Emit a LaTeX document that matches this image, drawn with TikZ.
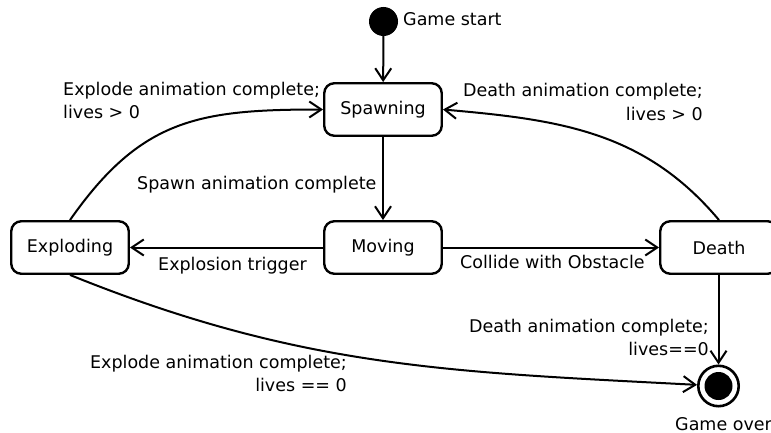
\documentclass[tikz,border=0pt]{standalone}
\usepackage{fontspec}
\setmainfont{DejaVu Sans}
\usetikzlibrary{arrows.meta}
\begin{document}
\begin{tikzpicture}[x=1pt,y=1pt,
  every node/.style={font=\fontsize{17.5}{23.5}\selectfont},
  state/.style={draw, line width=2.4pt, rounded corners=10pt, minimum width=117.5pt, minimum height=52.5pt, inner sep=0pt},
  edge/.style={line width=2pt, -{Straight Barb[length=12pt,width=16pt]}},
  lbl/.style={inner sep=0pt}]
\useasboundingbox (0,0) rectangle (771,432);
% states
\node[circle, fill, inner sep=0pt, minimum size=29pt] (init) at (383.5,410.5) {};
\node[lbl, anchor=base west] (tstart) at (403,406) {Game start};
\node[state] (spawn) at (383,322.5) {Spawning};
\node[state] (moving) at (383,184.5) {Moving};
\node[state] (expl) at (70,184.5) {Exploding};
\node[state] (death) at (719,184.5) {Death};
\node[circle, draw, line width=2.6pt, minimum size=40.4pt, inner sep=0pt,
  path picture={\fill (path picture bounding box.center) circle (14pt);}] (final) at (718.5,46) {};
\node[lbl, anchor=base west] (tover) at (675,2) {Game over};
% transitions
\draw[edge] (init) -- (spawn);
\draw[edge] (spawn) -- (moving);
\draw[edge] (moving) -- (expl);
\draw[edge] (moving) -- (death);
\draw[edge] (expl.north) to[out=55,in=180,looseness=1.15] (spawn.west);
\draw[edge] (death.north) to[out=130,in=-5] (spawn.east);
\draw[edge] (expl.south) to[out=-22,in=177] (final);
\draw[edge] (death.south -| final.north) -- (final.north);
% labels
\node[lbl, anchor=north west, align=left] (l1) at (63,353.5) {\strut Explode animation complete;\\lives > 0};
\node[lbl, anchor=north east, align=right] (l2) at (703,351.8) {\strut Death animation complete;\\lives > 0};
\node[lbl, anchor=base west] (l3) at (137,242.5) {Spawn animation complete};
\node[lbl, anchor=base west] (l4) at (158,162) {Explosion trigger};
\node[lbl, anchor=base west] (l5) at (460,164) {Collide with Obstacle};
\node[lbl, anchor=north east, align=right] (l6) at (347,80.5) {\strut Explode animation complete;\\lives == 0};
\node[lbl, anchor=north east, align=right] (l7) at (709,116.5) {\strut Death animation complete;\\lives==0};
\end{tikzpicture}
\end{document}
